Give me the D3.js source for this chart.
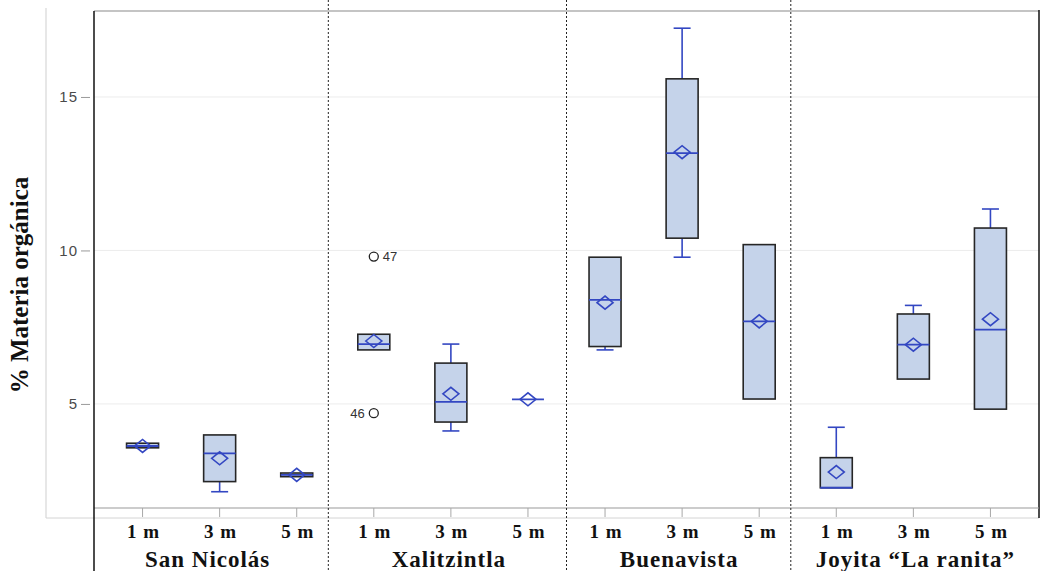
<!DOCTYPE html>
<html>
<head>
<meta charset="utf-8">
<script src="https://cdn.jsdelivr.net/npm/d3@7"></script>
<style>
  body { margin: 0; background: #fff; }
  svg { display: block; }
</style>
</head>
<body>
<div id="myChart"></div>
<script>
// data
let groups = ["San Nicolás", "Xalitzintla", "Buenavista", "Joyita “La ranita”"];
let depths = ["1 m", "3 m", "5 m"];
let q1     = [3.57, 2.47, 2.63, 6.76, 4.41, 5.15, 6.87, 10.40, 5.16, 2.27, 5.81, 4.83];
let median = [3.63, 3.39, 2.69, 6.95, 5.07, 5.15, 8.39, 13.17, 7.69, 2.27, 6.93, 7.42];
let q3     = [3.72, 3.99, 2.75, 7.27, 6.33, 5.15, 9.78, 15.59, 10.19, 3.25, 7.93, 10.73];
let mean   = [3.63, 3.23, 2.69, 7.05, 5.33, 5.15, 8.30, 13.20, 7.69, 2.78, 6.93, 7.76];
let wLow   = [3.57, 2.14, 2.63, 6.76, 4.12, 5.15, 6.76, 9.78, 5.16, 2.27, 5.81, 4.83];
let wHigh  = [3.72, 3.99, 2.75, 7.27, 6.95, 5.15, 9.78, 17.24, 10.19, 4.24, 8.21, 11.35];
let outliers = [
  { box: 3, value: 9.80, label: "47", side: "right" },
  { box: 3, value: 4.70, label: "46", side: "left" }
];
let yTicks = [5, 10, 15];

let W = 1047, H = 571;
let plot = { left: 94, right: 1039, top: 11, bottom: 508 };

let keys = [];
groups.forEach(g => depths.forEach(d => keys.push(g + "|" + d)));
let boxes = keys.map((k, i) => ({
  key: k, group: k.split("|")[0], depth: k.split("|")[1],
  q1: q1[i], med: median[i], q3: q3[i], mean: mean[i], lo: wLow[i], hi: wHigh[i]
}));

let svg = d3.select("#myChart").append("svg")
  .attr("width", W)
  .attr("height", H);

let x = d3.scalePoint()
  .domain(keys)
  .range([plot.left, plot.right])
  .padding(0.63);
let step = x.step();

let y = d3.scaleLinear()
  .domain([1.61, 17.8])
  .range([plot.bottom, plot.top]);

let boxW = 32, capW = 17;
let blue = "#3347c2", dark = "#262626", fill = "#c5d3ea";

// outer light frame of the original figure
svg.append("line").attr("x1", 46).attr("x2", 46).attr("y1", 8).attr("y2", 518)
  .attr("stroke", "#cfcfcf");
svg.append("line").attr("x1", 46).attr("x2", plot.right).attr("y1", 518).attr("y2", 518)
  .attr("stroke", "#d4d4d4");

// grid lines
svg.append("g").selectAll("line")
  .data(yTicks)
  .enter().append("line")
  .attr("x1", plot.left).attr("x2", plot.right)
  .attr("y1", d => y(d)).attr("y2", d => y(d))
  .attr("stroke", "#ececec");

// top border and right border
svg.append("line").attr("x1", plot.left).attr("x2", plot.right).attr("y1", plot.top).attr("y2", plot.top)
  .attr("stroke", "#b0b0b0").attr("stroke-width", 1.5);
svg.append("line").attr("x1", plot.right).attr("x2", plot.right).attr("y1", plot.top - 1).attr("y2", 518)
  .attr("stroke", "#111").attr("stroke-width", 1.5);

// x axis line
svg.append("line").attr("x1", plot.left).attr("x2", plot.right).attr("y1", plot.bottom).attr("y2", plot.bottom)
  .attr("stroke", "#9a9a9a").attr("stroke-width", 1.2);

// y axis
let yAxis = svg.append("g")
  .attr("transform", "translate(" + (plot.left - 4) + ",0)")
  .call(d3.axisLeft(y).tickValues(yTicks).tickSize(9).tickPadding(3));
yAxis.select(".domain").remove();
yAxis.selectAll(".tick line").attr("stroke", "#9a9a9a");
yAxis.selectAll(".tick text")
  .attr("fill", "#4a4a4a")
  .style("font-family", "Arial, 'Liberation Sans', sans-serif")
  .style("font-size", "15px")
  .style("letter-spacing", "1px");

// x ticks
svg.append("g").selectAll("line")
  .data(keys)
  .enter().append("line")
  .attr("x1", d => x(d)).attr("x2", d => x(d))
  .attr("y1", plot.bottom).attr("y2", plot.bottom + 9)
  .attr("stroke", "#a8a8a8");

// left black axis line, continued down through label area
svg.append("line").attr("x1", plot.left).attr("x2", plot.left).attr("y1", plot.top).attr("y2", H)
  .attr("stroke", "#111").attr("stroke-width", 1.5);

// dotted group separators
let sepFrac = [0.41, 0.5, 0.41];
let seps = groups.slice(0, -1).map((g, i) => x(g + "|" + depths[2]) + step * sepFrac[i]);
svg.append("g").selectAll("line")
  .data(seps)
  .enter().append("line")
  .attr("x1", d => d).attr("x2", d => d)
  .attr("y1", 0).attr("y2", H)
  .attr("stroke", "#222").attr("stroke-dasharray", "2,2");

// boxes
let bx = svg.append("g").selectAll("g")
  .data(boxes)
  .enter().append("g")
  .attr("transform", d => "translate(" + x(d.key) + ",0)");

// whiskers
bx.append("line")
  .attr("x1", 0).attr("x2", 0)
  .attr("y1", d => y(d.hi)).attr("y2", d => y(d.q3))
  .attr("stroke", blue).attr("stroke-width", 1.6);
bx.append("line")
  .attr("x1", 0).attr("x2", 0)
  .attr("y1", d => y(d.q1)).attr("y2", d => y(d.lo))
  .attr("stroke", blue).attr("stroke-width", 1.6);
bx.filter(d => d.hi > d.q3).append("line")
  .attr("x1", -capW / 2).attr("x2", capW / 2)
  .attr("y1", d => y(d.hi)).attr("y2", d => y(d.hi))
  .attr("stroke", blue).attr("stroke-width", 1.6);
bx.filter(d => d.lo < d.q1).append("line")
  .attr("x1", -capW / 2).attr("x2", capW / 2)
  .attr("y1", d => y(d.lo)).attr("y2", d => y(d.lo))
  .attr("stroke", blue).attr("stroke-width", 1.6);

bx.append("rect")
  .attr("x", -boxW / 2)
  .attr("width", boxW)
  .attr("y", d => y(d.q3))
  .attr("height", d => y(d.q1) - y(d.q3))
  .attr("fill", fill)
  .attr("stroke", dark)
  .attr("stroke-width", 1.6);

bx.append("line")
  .attr("x1", -boxW / 2).attr("x2", boxW / 2)
  .attr("y1", d => y(d.med)).attr("y2", d => y(d.med))
  .attr("stroke", blue).attr("stroke-width", 1.8);

// mean diamonds
bx.append("path")
  .attr("d", d => {
    let c = y(d.mean);
    return "M-8," + c + "L0," + (c - 6.5) + "L8," + c + "L0," + (c + 6.5) + "Z";
  })
  .attr("fill", "none")
  .attr("stroke", blue)
  .attr("stroke-width", 1.6);

// outliers
let out = svg.append("g").selectAll("g")
  .data(outliers)
  .enter().append("g")
  .attr("transform", d => "translate(" + x(keys[d.box]) + "," + y(d.value) + ")");
out.append("circle")
  .attr("r", 4.5)
  .attr("fill", "none")
  .attr("stroke", "#222")
  .attr("stroke-width", 1.3);
out.append("text")
  .attr("x", d => d.side === "right" ? 9 : -9)
  .attr("dy", "0.35em")
  .attr("text-anchor", d => d.side === "right" ? "start" : "end")
  .style("font-family", "Arial, 'Liberation Sans', sans-serif")
  .style("font-size", "13px")
  .attr("fill", "#333")
  .text(d => d.label);

// depth labels
svg.append("g").selectAll("text")
  .data(boxes)
  .enter().append("text")
  .attr("x", d => x(d.key) + 1)
  .attr("y", 538)
  .attr("text-anchor", "middle")
  .style("font-family", "'Liberation Serif', 'Times New Roman', serif")
  .style("font-weight", "bold")
  .style("font-size", "19px")
  .style("letter-spacing", "1px")
  .attr("fill", "#111")
  .text(d => d.depth);

// group labels (slightly nudged like the hand-placed originals)
let groupShift = [-12, -2, -3, 2];
svg.append("g").selectAll("text")
  .data(groups)
  .enter().append("text")
  .attr("x", (g, i) => x(g + "|" + depths[1]) + groupShift[i])
  .attr("y", 567)
  .attr("text-anchor", "middle")
  .style("font-family", "'Liberation Serif', 'Times New Roman', serif")
  .style("font-weight", "bold")
  .style("font-size", "23px")
  .style("letter-spacing", "1px")
  .attr("fill", "#111")
  .text(g => g);

// y axis title
svg.append("text")
  .attr("transform", "translate(28,285) rotate(-90)")
  .attr("text-anchor", "middle")
  .style("font-family", "'Liberation Serif', 'Times New Roman', serif")
  .style("font-weight", "bold")
  .style("font-size", "25px")
  .attr("fill", "#111")
  .text("% Materia orgánica");
</script>
</body>
</html>
